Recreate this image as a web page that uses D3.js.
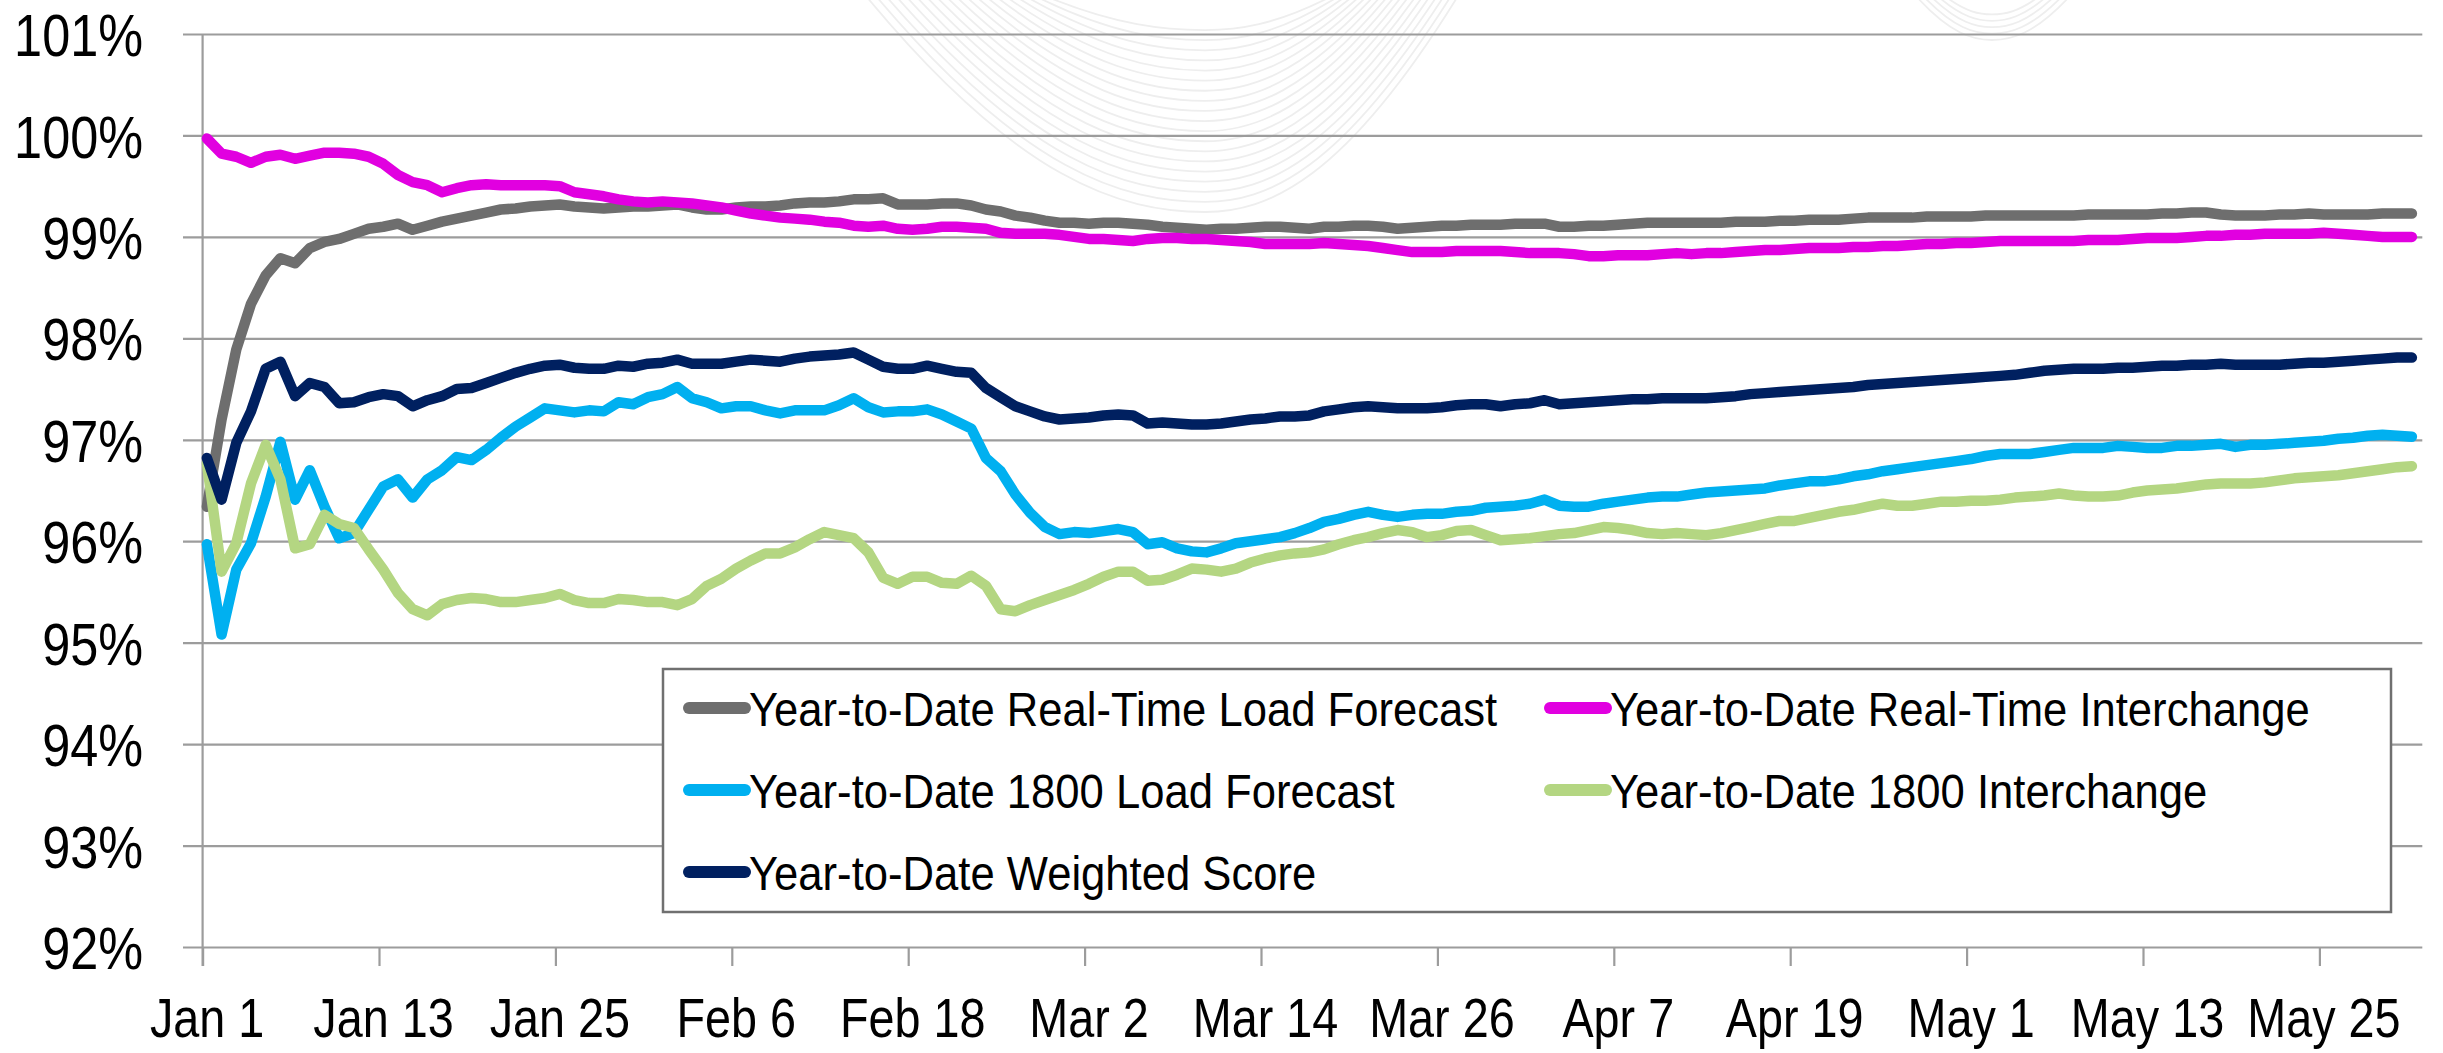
<!DOCTYPE html>
<html>
<head>
<meta charset="utf-8">
<script src="https://cdn.jsdelivr.net/npm/d3@7"></script>
<style>
  body { margin: 0; background: #fff; }
  svg { display: block; font-family: "Liberation Sans", Arial, sans-serif; }
</style>
</head>
<body>
<div id="chart"></div>
<script>
// daily year-to-date scores, Jan 1 .. May 31
var startDate = new Date(2019, 0, 1);
var tickLabels = ["Jan 1", "Jan 13", "Jan 25", "Feb 6", "Feb 18", "Mar 2", "Mar 14",
    "Mar 26", "Apr 7", "Apr 19", "May 1", "May 13", "May 25"];
var yTicks = [92, 93, 94, 95, 96, 97, 98, 99, 100, 101];

var rtLoad = [96.34, 97.20, 97.89, 98.34, 98.62, 98.79, 98.74, 98.89, 98.95, 98.98,
    99.03, 99.08, 99.10, 99.13, 99.07, 99.11, 99.15, 99.18, 99.21, 99.24,
    99.27, 99.28, 99.30, 99.31, 99.32, 99.30, 99.29, 99.28, 99.29, 99.30,
    99.30, 99.31, 99.32, 99.29, 99.27, 99.27, 99.29, 99.30, 99.30, 99.31,
    99.33, 99.34, 99.34, 99.35, 99.37, 99.37, 99.38, 99.32, 99.32, 99.32,
    99.33, 99.33, 99.31, 99.27, 99.25, 99.21, 99.19, 99.16, 99.14, 99.14,
    99.13, 99.14, 99.14, 99.13, 99.12, 99.10, 99.09, 99.08, 99.07, 99.08,
    99.08, 99.09, 99.10, 99.10, 99.09, 99.08, 99.10, 99.10, 99.11, 99.11,
    99.10, 99.08, 99.09, 99.10, 99.11, 99.11, 99.12, 99.12, 99.12, 99.13,
    99.13, 99.13, 99.10, 99.10, 99.11, 99.11, 99.12, 99.13, 99.14, 99.14,
    99.14, 99.14, 99.14, 99.14, 99.15, 99.15, 99.15, 99.16, 99.16, 99.17,
    99.17, 99.17, 99.18, 99.19, 99.19, 99.19, 99.19, 99.20, 99.20, 99.20,
    99.20, 99.21, 99.21, 99.21, 99.21, 99.21, 99.21, 99.21, 99.22, 99.22,
    99.22, 99.22, 99.22, 99.23, 99.23, 99.24, 99.24, 99.22, 99.21, 99.21,
    99.21, 99.22, 99.22, 99.23, 99.22, 99.22, 99.22, 99.22, 99.23, 99.23, 99.23];

var rtInterchange = [99.97, 99.82, 99.79, 99.73, 99.79, 99.81, 99.77, 99.80, 99.83, 99.83,
    99.82, 99.79, 99.72, 99.61, 99.54, 99.51, 99.44, 99.48, 99.51, 99.52,
    99.51, 99.51, 99.51, 99.51, 99.50, 99.44, 99.42, 99.40, 99.37, 99.35,
    99.34, 99.35, 99.34, 99.33, 99.31, 99.29, 99.26, 99.23, 99.21, 99.19,
    99.18, 99.17, 99.15, 99.14, 99.11, 99.10, 99.11, 99.08, 99.07, 99.08,
    99.10, 99.10, 99.09, 99.08, 99.04, 99.03, 99.03, 99.03, 99.02, 99.00,
    98.98, 98.98, 98.97, 98.96, 98.98, 98.99, 98.99, 98.98, 98.98, 98.97,
    98.96, 98.95, 98.93, 98.93, 98.93, 98.93, 98.94, 98.93, 98.92, 98.91,
    98.89, 98.87, 98.85, 98.85, 98.85, 98.86, 98.86, 98.86, 98.86, 98.85,
    98.84, 98.84, 98.84, 98.83, 98.81, 98.81, 98.82, 98.82, 98.82, 98.83,
    98.84, 98.83, 98.84, 98.84, 98.85, 98.86, 98.87, 98.87, 98.88, 98.89,
    98.89, 98.89, 98.90, 98.90, 98.91, 98.91, 98.92, 98.93, 98.93, 98.94,
    98.94, 98.95, 98.96, 98.96, 98.96, 98.96, 98.96, 98.96, 98.97, 98.97,
    98.97, 98.98, 98.99, 98.99, 98.99, 99.00, 99.01, 99.01, 99.02, 99.02,
    99.03, 99.03, 99.03, 99.03, 99.04, 99.03, 99.02, 99.01, 99.00, 99.00, 99.00];

var load1800 = [95.97, 95.08, 95.72, 95.98, 96.44, 96.98, 96.41, 96.70, 96.34, 96.03,
    96.08, 96.31, 96.54, 96.61, 96.43, 96.61, 96.70, 96.83, 96.80, 96.90,
    97.02, 97.13, 97.22, 97.31, 97.29, 97.27, 97.29, 97.28, 97.37, 97.35,
    97.42, 97.45, 97.52, 97.41, 97.37, 97.31, 97.33, 97.33, 97.29, 97.26,
    97.29, 97.29, 97.29, 97.34, 97.41, 97.32, 97.27, 97.28, 97.28, 97.30,
    97.25, 97.18, 97.11, 96.82, 96.69, 96.46, 96.28, 96.14, 96.07, 96.09,
    96.08, 96.10, 96.12, 96.09, 95.97, 95.99, 95.93, 95.90, 95.89, 95.93,
    95.98, 96.00, 96.02, 96.04, 96.08, 96.13, 96.19, 96.22, 96.26, 96.29,
    96.26, 96.24, 96.26, 96.27, 96.27, 96.29, 96.30, 96.33, 96.34, 96.35,
    96.37, 96.41, 96.35, 96.34, 96.34, 96.37, 96.39, 96.41, 96.43, 96.44,
    96.44, 96.46, 96.48, 96.49, 96.50, 96.51, 96.52, 96.55, 96.57, 96.59,
    96.59, 96.61, 96.64, 96.66, 96.69, 96.71, 96.73, 96.75, 96.77, 96.79,
    96.81, 96.84, 96.86, 96.86, 96.86, 96.88, 96.90, 96.92, 96.92, 96.92,
    96.94, 96.93, 96.92, 96.92, 96.94, 96.94, 96.95, 96.96, 96.93, 96.95,
    96.95, 96.96, 96.97, 96.98, 96.99, 97.01, 97.02, 97.04, 97.05, 97.04, 97.03];

var interchange1800 = [96.77, 95.70, 95.98, 96.57, 96.95, 96.61, 95.93, 95.97, 96.26, 96.17,
    96.13, 95.92, 95.72, 95.49, 95.33, 95.27, 95.38, 95.42, 95.44, 95.43,
    95.40, 95.40, 95.42, 95.44, 95.48, 95.42, 95.39, 95.39, 95.43, 95.42,
    95.40, 95.40, 95.37, 95.43, 95.56, 95.63, 95.73, 95.81, 95.88, 95.88,
    95.94, 96.02, 96.09, 96.06, 96.03, 95.89, 95.64, 95.58, 95.65, 95.65,
    95.59, 95.58, 95.66, 95.56, 95.33, 95.31, 95.37, 95.42, 95.47, 95.52,
    95.58, 95.65, 95.70, 95.70, 95.61, 95.62, 95.67, 95.73, 95.72, 95.70,
    95.73, 95.79, 95.83, 95.86, 95.88, 95.89, 95.92, 95.97, 96.01, 96.04,
    96.08, 96.11, 96.09, 96.04, 96.06, 96.10, 96.11, 96.06, 96.01, 96.02,
    96.03, 96.05, 96.07, 96.08, 96.11, 96.14, 96.13, 96.11, 96.08, 96.07,
    96.08, 96.07, 96.06, 96.08, 96.11, 96.14, 96.17, 96.20, 96.20, 96.23,
    96.26, 96.29, 96.31, 96.34, 96.37, 96.35, 96.35, 96.37, 96.39, 96.39,
    96.40, 96.40, 96.41, 96.43, 96.44, 96.45, 96.47, 96.45, 96.44, 96.44,
    96.45, 96.48, 96.50, 96.51, 96.52, 96.54, 96.56, 96.57, 96.57, 96.57,
    96.58, 96.60, 96.62, 96.63, 96.64, 96.65, 96.67, 96.69, 96.71, 96.73, 96.74];

var weighted = [96.82, 96.41, 96.97, 97.28, 97.70, 97.77, 97.43, 97.56, 97.52, 97.36,
    97.37, 97.42, 97.45, 97.43, 97.33, 97.39, 97.43, 97.50, 97.51, 97.56,
    97.61, 97.66, 97.70, 97.73, 97.74, 97.71, 97.70, 97.70, 97.73, 97.72,
    97.75, 97.76, 97.79, 97.75, 97.75, 97.75, 97.77, 97.79, 97.78, 97.77,
    97.80, 97.82, 97.83, 97.84, 97.86, 97.79, 97.72, 97.70, 97.70, 97.73,
    97.70, 97.67, 97.66, 97.51, 97.42, 97.33, 97.28, 97.23, 97.20, 97.21,
    97.22, 97.24, 97.25, 97.24, 97.16, 97.17, 97.16, 97.15, 97.15, 97.16,
    97.18, 97.20, 97.21, 97.23, 97.23, 97.24, 97.28, 97.30, 97.32, 97.33,
    97.32, 97.31, 97.31, 97.31, 97.32, 97.34, 97.35, 97.35, 97.33, 97.35,
    97.36, 97.39, 97.35, 97.36, 97.37, 97.38, 97.39, 97.40, 97.40, 97.41,
    97.41, 97.41, 97.41, 97.42, 97.43, 97.45, 97.46, 97.47, 97.48, 97.49,
    97.50, 97.51, 97.52, 97.54, 97.55, 97.56, 97.57, 97.58, 97.59, 97.60,
    97.61, 97.62, 97.63, 97.64, 97.66, 97.68, 97.69, 97.70, 97.70, 97.70,
    97.71, 97.71, 97.72, 97.73, 97.73, 97.74, 97.74, 97.75, 97.74, 97.74,
    97.74, 97.74, 97.75, 97.76, 97.76, 97.77, 97.78, 97.79, 97.80, 97.81, 97.81];

var seriesNames = ["Year-to-Date Real-Time Load Forecast", "Year-to-Date Real-Time Interchange",
    "Year-to-Date 1800 Load Forecast", "Year-to-Date 1800 Interchange", "Year-to-Date Weighted Score"];
var seriesValues = [rtLoad, rtInterchange, load1800, interchange1800, weighted];
var seriesColors = ["#6e6e6e", "#e100e0", "#00b0f0", "#b4d682", "#002060"];

var W = 2443, H = 1053;
var plotLeft = 202.6, plotRight = 2422.3, plotTop = 34, plotBottom = 947;
var gridColor = "#9c9c9c";

// squeeze a text horizontally to mimic the narrow font of the original
function condense(sel, factor) {
    sel.each(function () {
        var w = this.getComputedTextLength();
        d3.select(this)
            .attr("textLength", w * factor)
            .attr("lengthAdjust", "spacingAndGlyphs");
    });
}

var svg = d3.select("#chart").append("svg")
    .attr("width", W)
    .attr("height", H);

var x = d3.scaleTime()
    .domain([startDate, d3.timeDay.offset(startDate, 151)])
    .range([plotLeft, plotRight]);
var y = d3.scaleLinear()
    .domain([92, 101])
    .range([plotBottom, plotTop]);

// points sit a little after midnight of their day, like the source chart
function px(i) {
    return x(d3.timeHour.offset(d3.timeDay.offset(startDate, i), 7));
}

// faint background watermark (decoration of the source slide)
var wm = svg.append("g").attr("fill", "none").attr("stroke", "#eeeeee").attr("stroke-width", 1.8);
function uCurve(cx, yb, halfL, halfR) {
    var p = d3.path();
    p.moveTo(cx - halfL, -4);
    p.bezierCurveTo(cx - halfL * 0.55, yb * 0.85, cx - halfL * 0.25, yb, cx, yb);
    p.bezierCurveTo(cx + halfR * 0.25, yb, cx + halfR * 0.55, yb * 0.85, cx + halfR, -4);
    return p.toString();
}
for (var k = 0; k < 19; k++) {
    var s = 1 - k / 19;
    wm.append("path").attr("d", uCurve(1205, 20 + 192 * s, 150 + 189 * s, 120 + 133 * s));
}
for (var k = 0; k < 5; k++) {
    var s = 1 - k / 5;
    wm.append("path").attr("d", uCurve(1992, 8 + 32 * s, 40 + 36 * s, 40 + 38 * s));
}

// y axis with gridlines
var yAxis = svg.append("g")
    .attr("transform", "translate(" + plotRight + ",0)")
    .call(d3.axisLeft(y).tickValues(yTicks)
        .tickSizeInner(plotRight - 183).tickSizeOuter(0).tickPadding(40)
        .tickFormat(function (d) { return d + "%"; }));
yAxis.select(".domain").remove();
yAxis.selectAll("line").attr("stroke", gridColor).attr("stroke-width", 2.2);
yAxis.selectAll("text")
    .attr("dy", "0.36em")
    .attr("fill", "#000")
    .style("font-size", "60px")
    .style("font-family", "\"Liberation Sans\", Arial, sans-serif")
    .call(condense, 0.84);

// vertical axis line
svg.append("line")
    .attr("x1", plotLeft).attr("x2", plotLeft)
    .attr("y1", plotTop).attr("y2", plotBottom + 19)
    .attr("stroke", gridColor).attr("stroke-width", 2.2);

// x axis
var tickDates = tickLabels.map(function (d, i) { return d3.timeDay.offset(startDate, i * 12); });
var xAxis = svg.append("g")
    .attr("transform", "translate(0," + plotBottom + ")")
    .call(d3.axisBottom(x).tickValues(tickDates)
        .tickSizeInner(19).tickSizeOuter(0).tickPadding(32)
        .tickFormat(function (d, i) { return tickLabels[i]; }));
xAxis.select(".domain").remove();
xAxis.selectAll("line").attr("stroke", gridColor).attr("stroke-width", 2.2);
xAxis.selectAll("text")
    .attr("dx", 4)
    .attr("fill", "#000")
    .style("font-size", "55px")
    .style("font-family", "\"Liberation Sans\", Arial, sans-serif")
    .call(condense, 0.85);

// series lines
var line = d3.line()
    .x(function (d, i) { return px(i); })
    .y(function (d) { return y(d); });

svg.append("g").selectAll("path")
    .data(seriesValues)
    .enter().append("path")
    .attr("d", line)
    .attr("fill", "none")
    .attr("stroke", function (d, i) { return seriesColors[i]; })
    .attr("stroke-width", 10.5)
    .attr("stroke-linejoin", "round")
    .attr("stroke-linecap", "round");

// legend
var legend = svg.append("g");
legend.append("rect")
    .attr("x", 663).attr("y", 669)
    .attr("width", 2391 - 663).attr("height", 912 - 669)
    .attr("fill", "#fff")
    .attr("stroke", "#707070")
    .attr("stroke-width", 2.5);

var colX = [689, 1550];
var rowY = [708, 790, 872];
seriesNames.forEach(function (name, i) {
    var cx = colX[i % 2], cy = rowY[Math.floor(i / 2)];
    legend.append("line")
        .attr("x1", cx).attr("x2", cx + 56)
        .attr("y1", cy).attr("y2", cy)
        .attr("stroke", seriesColors[i])
        .attr("stroke-width", 12)
        .attr("stroke-linecap", "round");
    legend.append("text")
        .attr("x", cx + 60)
        .attr("y", cy + 17.5)
        .style("font-size", "49px")
        .attr("fill", "#000")
        .text(name)
        .call(condense, 0.89);
});
</script>
</body>
</html>
